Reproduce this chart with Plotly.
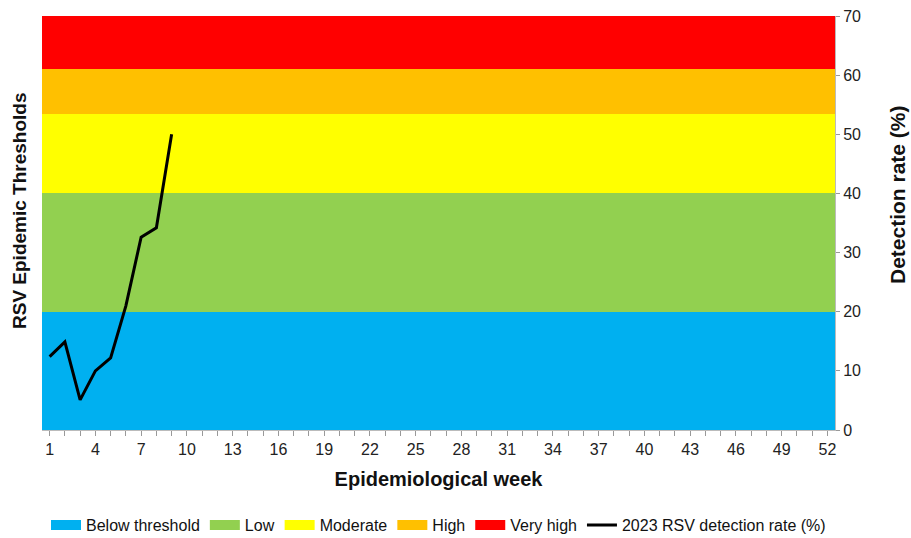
import plotly.graph_objects as go

weeks = list(range(1, 53))
band_names = ["Below threshold", "Low", "Moderate", "High", "Very high"]
band_heights = [20, 20, 13.5, 7.5, 9]
band_colors = ["#00B0F0", "#92D050", "#FFFF00", "#FFC000", "#FF0000"]

rate_weeks = [1, 2, 3, 4, 5, 6, 7, 8, 9]
rate_values = [12.4, 14.9, 5.1, 10.0, 12.2, 21.0, 32.6, 34.2, 50.0]

tick_weeks = list(range(1, 53, 3))

fig = go.Figure()
for name, h, c in zip(band_names, band_heights, band_colors):
    fig.add_trace(go.Bar(x=weeks, y=[h] * len(weeks), name=name, marker=dict(color=c, line=dict(width=0)),
                         hoverinfo="skip", showlegend=False, legendgroup=name))
for name, c in zip(band_names, band_colors):
    fig.add_trace(go.Scatter(x=[None], y=[None], mode="lines", name=name, legendgroup=name,
                             line=dict(color=c, width=10)))
fig.add_trace(go.Scatter(x=rate_weeks, y=rate_values, mode="lines", name="2023 RSV detection rate (%)",
                         line=dict(color="black", width=3)))

fig.update_layout(
    width=911, height=538,
    margin=dict(l=42, r=76, t=16, b=108, autoexpand=False),
    barmode="stack", bargap=0,
    plot_bgcolor="white", paper_bgcolor="white",
    font=dict(family="Liberation Sans, Arial", size=16, color="#222"),
    legend=dict(orientation="h", x=0.5, xanchor="center", y=-0.23, yanchor="middle",
                traceorder="normal", font=dict(size=16, color="#111"), itemwidth=30, tracegroupgap=0),
    xaxis=dict(range=[0.5, 52.5], tickmode="array", automargin=False,
               tickvals=weeks,
               ticktext=[str(w) if w in tick_weeks else "" for w in weeks],
               ticks="outside", ticklen=5, tickcolor="#999", showline=True, linecolor="#bbb",
               showgrid=False, zeroline=False, ticklabeloverflow="allow",
               title=dict(text="<b>Epidemiological week</b>", font=dict(size=20, color="#111"), standoff=14)),
    yaxis=dict(range=[0, 70], side="right", tickvals=list(range(0, 71, 10)), automargin=False,
               ticks="outside", ticklen=4, tickcolor="#999", showline=True, linecolor="#bbb",
               showgrid=False, zeroline=False, ticklabeloverflow="allow"),
    annotations=[
        dict(text="<b>RSV Epidemic Thresholds</b>", x=0, xref="paper", xanchor="center", xshift=-23,
             y=0.5, yref="paper", yanchor="middle", yshift=12, textangle=-90, showarrow=False,
             font=dict(size=19, color="#111")),
        dict(text="<b>Detection rate (%)</b>", x=1, xref="paper", xanchor="center", xshift=62,
             y=0.5, yref="paper", yanchor="middle", yshift=28, textangle=-90, showarrow=False,
             font=dict(size=21, color="#111")),
    ],
)

fig.write_html("out.html", config={"displayModeBar": False},
               post_script="document.body.style.margin='0';")
